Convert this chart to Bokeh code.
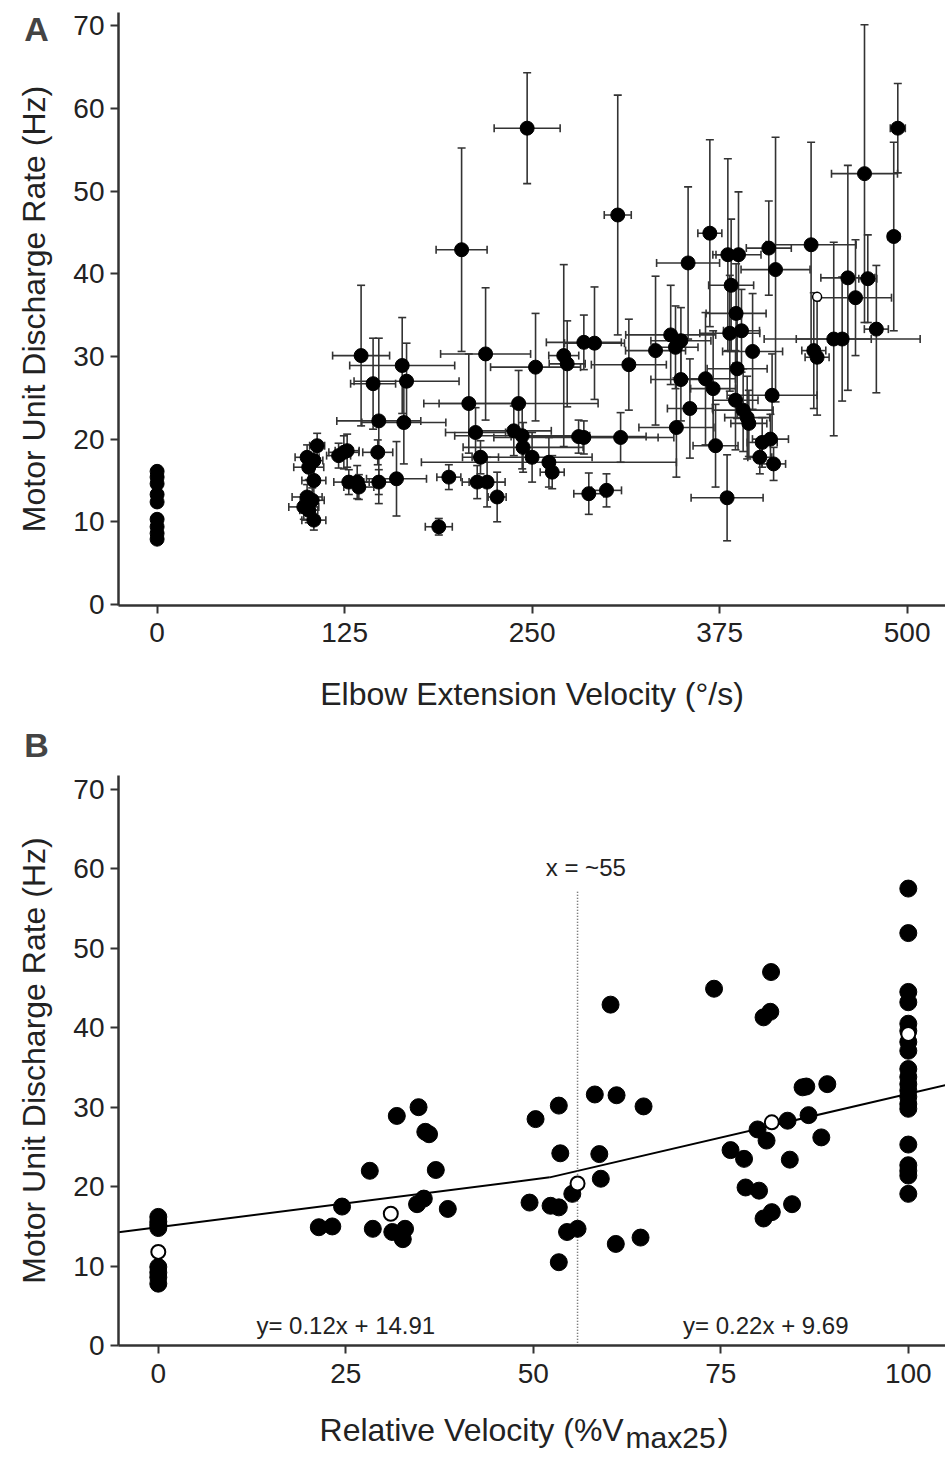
import numpy as np
from bokeh.plotting import figure
from bokeh.models import ColumnDataSource, Whisker, TeeHead, FixedTicker, Label, Range1d
from bokeh.layouts import column
from bokeh.embed import file_html
from bokeh.resources import INLINE

FONT = "Liberation Sans"

# ---------------- Panel A data ----------------
a_zero_rate = [16.1, 15.4, 14.6, 13.3, 12.4, 10.3, 9.4, 8.6, 7.9]

a_vel = [106.7, 100, 104.5, 101.1, 104.5, 100, 103.4, 97.8, 101.1, 104.5,
         121, 124.5, 126.7, 127.8, 133.4, 134.5, 147.1, 147.8, 159.6, 136,
         144, 147.8, 163.4, 166.3, 164.5, 187.8, 194.5, 203, 207.8, 212.3,
         215.6, 213.4, 220, 226.7, 219, 237.8, 241, 243.4, 244, 250,
         246.7, 252.3, 263.4, 261.2, 271.1, 273.4, 281, 284.5, 284.5, 291.6,
         287.8, 299.6, 307.1, 309, 314.5, 332.3, 342.4, 345.6, 349.2, 349.2,
         346.2, 354, 355.2, 365.6, 370.7, 368.5, 372.3, 380, 380.5, 387.6,
         382.7, 386, 389.6, 381.8, 386.7, 385.6, 390.7, 393.4, 394.5, 397,
         403.4, 408.9, 401.8, 411, 410, 407.8, 412.3, 436, 437.8, 440,
         451.1, 456.7, 460.5, 465.6, 471.6, 473.8, 479.5, 491.1, 493.8]
a_rate = [19.2, 17.8, 17.4, 16.6, 15.0, 13.0, 12.6, 11.8, 11.4, 10.2,
          18.0, 18.4, 18.6, 14.8, 14.8, 14.2, 18.4, 14.8, 15.2, 30.1,
          26.7, 22.2, 28.9, 27.0, 22.0, 9.4, 15.4, 42.9, 24.3, 20.8,
          17.8, 14.8, 14.8, 13.0, 30.3, 21.0, 24.3, 20.4, 19.0, 17.8,
          57.6, 28.7, 16.0, 17.2, 30.1, 29.1, 20.3, 20.2, 31.7, 31.6,
          13.4, 13.8, 47.1, 20.2, 29.0, 30.7, 32.6, 31.1, 31.9, 27.2,
          21.4, 41.3, 23.7, 27.3, 26.1, 44.9, 19.2, 12.9, 42.3, 42.3,
          38.6, 35.2, 33.1, 32.8, 28.5, 24.7, 23.5, 22.6, 21.9, 30.6,
          19.6, 20.0, 17.8, 17.0, 25.3, 43.1, 40.5, 43.5, 30.7, 29.9,
          32.1, 32.1, 39.5, 37.1, 52.1, 39.4, 33.3, 44.5, 57.6]
a_vel_sd = [5, 8, 6, 10, 8, 10, 8, 10, 6, 8,
            8, 10, 8, 10, 8, 10, 10, 12, 20, 19,
            15, 28, 35, 35, 28, 9, 8, 17, 30, 20,
            12, 10, 12, 6, 30, 25, 53, 45, 40, 40,
            22, 30, 8, 85, 10, 12, 45, 60, 25, 20,
            10, 10, 9, 25, 25, 20, 30, 15, 20, 20,
            25, 21, 15, 20, 15, 8, 15, 24, 10, 15,
            15, 20, 12, 20, 20, 15, 20, 15, 12, 20,
            10, 12, 8, 8, 30, 15, 23, 30, 8, 8,
            25, 52, 18, 24, 22, 6, 8, 4, 5]
a_rate_sd = [1.5, 1.5, 2, 1.5, 2, 1.5, 1.5, 1.5, 1.5, 1.2,
             1.5, 2, 2, 1.5, 2, 1.5, 1.5, 1.5, 4.5, 8.5,
             5.5, 10, 5.8, 4.6, 5, 1, 1.5, 12.3, 6, 3,
             2, 2, 3, 3, 8, 3, 4, 4, 3, 3,
             6.7, 6.5, 2, 3, 11, 5.2, 2, 2, 3.3, 6.8,
             2.5, 2, 14.5, 3, 5.5, 9, 6, 5, 4, 5,
             6, 9.2, 6, 8, 7, 11.3, 5, 5.2, 11.6, 7.6,
             8, 6, 5, 7, 6, 6, 5, 5, 4, 7,
             3, 3, 2, 2, 5, 5.7, 16, 12.4, 7, 7,
             11.7, 7.5, 13.6, 7, 18, 5.3, 7.7, 11.4, 5.4]
a_open_vel = [440]
a_open_rate = [37.2]

a_xticks = [0, 125, 250, 375, 500]
yticks = [0, 10, 20, 30, 40, 50, 60, 70]

# ---------------- Panel B data ----------------
b_rel = [0, 0, 0, 0, 0, 0, 0, 0,
         21.4, 23.2, 24.5, 28.2, 28.6, 31.8, 31.2, 32.9, 32.6, 34.7, 35.6, 36.1, 37.0, 34.5, 35.4, 38.6,
         50.3, 53.4, 53.6, 49.5, 52.3, 53.4, 55.2, 54.5, 55.9, 53.4, 58.2, 61.1, 60.3, 58.8, 59.0, 64.7, 61.0, 64.3,
         74.1, 81.7, 80.7, 81.6, 76.3, 78.1, 79.9, 81.1, 83.9, 86.7, 85.9, 86.4, 89.2, 88.4, 84.2, 78.3, 80.1, 80.7, 81.8, 84.5,
         100, 100, 100, 100, 100, 100, 100, 100, 100, 100, 100, 100, 100, 100, 100, 100, 100, 100, 100, 100]
b_rate = [16.2, 15.6, 15.2, 14.8, 9.9, 9.2, 8.6, 7.8,
          14.9, 15.0, 17.5, 22.0, 14.7, 28.9, 14.3, 14.7, 13.4, 30.0, 26.9, 26.6, 22.1, 17.8, 18.5, 17.2,
          28.5, 30.2, 24.2, 18.0, 17.6, 17.4, 19.1, 14.3, 14.7, 10.5, 31.6, 31.5, 42.9, 24.1, 21.0, 30.1, 12.8, 13.6,
          44.9, 47.0, 41.3, 42.0, 24.6, 23.5, 27.2, 25.8, 28.3, 29.0, 32.5, 32.6, 32.9, 26.2, 23.4, 19.9, 19.5, 16.0, 16.8, 17.8,
          57.5, 51.9, 44.5, 43.2, 40.5, 39.6, 38.2, 37.1, 34.8, 33.8, 32.9, 32.1, 31.3, 30.4, 29.8, 25.3, 22.7, 22.0, 21.4, 19.1]
b_mean_rel = [0, 31.0, 55.9, 81.8, 100]
b_mean_rate = [11.8, 16.6, 20.4, 28.1, 39.2]
fit_slopes = [0.12, 0.22]
fit_intercepts = [14.91, 9.69]
fit_labels = ["y= 0.12x + 14.91", "y= 0.22x + 9.69"]
break_x = 55.9
break_top = 57.2
b_xticks = [0, 25, 50, 75, 100]


def style_axes(p, xloc, yloc, xbounds, ybounds):
    for ax in (p.xaxis[0], p.yaxis[0]):
        ax.axis_line_width = 2.5
        ax.axis_line_color = "#333333"
        ax.major_tick_line_width = 2
        ax.major_tick_line_color = "#333333"
        ax.major_tick_out = 8
        ax.major_tick_in = 0
        ax.minor_tick_out = 0
        ax.minor_tick_in = 0
        ax.major_label_text_font = FONT
        ax.major_label_text_font_size = "28px"
        ax.major_label_text_color = "#222222"
        ax.axis_label_text_font = FONT
        ax.axis_label_text_font_size = "32px"
        ax.axis_label_text_font_style = "normal"
        ax.axis_label_text_color = "#222222"
    p.xaxis[0].fixed_location = xloc
    p.yaxis[0].fixed_location = yloc
    p.xaxis[0].bounds = xbounds
    p.yaxis[0].bounds = ybounds
    p.yaxis[0].ticker = FixedTicker(ticks=yticks)
    p.yaxis[0].major_label_standoff = 6
    p.xaxis[0].major_label_standoff = 10
    p.grid.visible = False
    p.outline_line_color = None
    p.background_fill_color = "white"
    p.border_fill_color = "white"


# ---------------- Panel A ----------------
A_X0, A_X1 = -104.4, 525.6
A_Y0, A_Y1 = -14.03, 73.04
p1 = figure(width=945, height=720, x_range=Range1d(A_X0, A_X1), y_range=Range1d(A_Y0, A_Y1),
            output_backend="svg", toolbar_location=None,
            min_border_left=0, min_border_right=0, min_border_top=0, min_border_bottom=0)
style_axes(p1, xloc=-0.12, yloc=-25.73, xbounds=(-25.73, A_X1), ybounds=(-0.12, 71.58))
p1.xaxis[0].ticker = FixedTicker(ticks=a_xticks)
p1.xaxis[0].axis_label = "Elbow Extension Velocity (°/s)"
p1.xaxis[0].axis_label_standoff = 30
p1.yaxis[0].axis_label = "Motor Unit Discharge Rate (Hz)"
p1.yaxis[0].axis_label_standoff = 18

av = np.array(a_vel); ar = np.array(a_rate)
avs = np.array(a_vel_sd); ars = np.array(a_rate_sd)
srcA = ColumnDataSource(dict(x=av, y=ar, xl=av - avs, xu=av + avs, yl=ar - ars, yu=ar + ars))

ecol = "#333333"
wv = Whisker(source=srcA, base="x", lower="yl", upper="yu", dimension="height",
             line_color=ecol, line_width=1.6,
             upper_head=TeeHead(size=8, line_color=ecol, line_width=1.6),
             lower_head=TeeHead(size=8, line_color=ecol, line_width=1.6))
wh = Whisker(source=srcA, base="y", lower="xl", upper="xu", dimension="width",
             line_color=ecol, line_width=1.6,
             upper_head=TeeHead(size=8, line_color=ecol, line_width=1.6),
             lower_head=TeeHead(size=8, line_color=ecol, line_width=1.6))
p1.add_layout(wv)
p1.add_layout(wh)
p1.scatter("x", "y", source=srcA, size=14, fill_color="black", line_color="black")
p1.scatter([0] * len(a_zero_rate), a_zero_rate, size=14, fill_color="black", line_color="black")
p1.scatter(a_open_vel, a_open_rate, size=9, fill_color="white", line_color="black", line_width=1.5)

p1.add_layout(Label(x=-80.4, y=69.6, text="A", text_font=FONT, text_font_size="34px",
                    text_font_style="bold", text_align="center", text_baseline="middle"))

# ---------------- Panel B ----------------
B_X0, B_X1 = -21.04, 104.96
B_Y0, B_Y1 = -14.19, 78.64
p2 = figure(width=945, height=738, x_range=Range1d(B_X0, B_X1), y_range=Range1d(B_Y0, B_Y1),
            output_backend="svg", toolbar_location=None,
            min_border_left=0, min_border_right=0, min_border_top=0, min_border_bottom=0)
style_axes(p2, xloc=0.0, yloc=-5.31, xbounds=(-5.31, B_X1), ybounds=(0.0, 71.7))
p2.xaxis[0].ticker = FixedTicker(ticks=b_xticks)
p2.yaxis[0].axis_label = "Motor Unit Discharge Rate (Hz)"
p2.yaxis[0].axis_label_standoff = 18

# fitted two-segment line
x0, x3 = -5.31, B_X1
xc = (fit_intercepts[0] - fit_intercepts[1]) / (fit_slopes[1] - fit_slopes[0])
seg1 = np.array([x0, xc]); seg2 = np.array([xc, x3])
p2.line(seg1, fit_slopes[0] * seg1 + fit_intercepts[0], line_color="black", line_width=2)
p2.line(seg2, fit_slopes[1] * seg2 + fit_intercepts[1], line_color="black", line_width=2)

p2.segment(x0=[break_x], y0=[0], x1=[break_x], y1=[break_top], line_color="#555555",
           line_width=1.5, line_dash="1 2")

p2.scatter(b_rel, b_rate, size=17, fill_color="black", line_color="black")
p2.scatter(b_mean_rel, b_mean_rate, size=14, fill_color="white", line_color="black", line_width=2)

p2.add_layout(Label(x=57.0, y=60.2, text="x = ~55", text_font=FONT, text_font_size="24px",
                    text_align="center", text_baseline="middle", text_color="#222222"))
p2.add_layout(Label(x=25.0, y=2.5, text=fit_labels[0], text_font=FONT, text_font_size="24px",
                    text_align="center", text_baseline="middle", text_color="#222222"))
p2.add_layout(Label(x=81.0, y=2.5, text=fit_labels[1], text_font=FONT, text_font_size="24px",
                    text_align="center", text_baseline="middle", text_color="#222222"))
p2.add_layout(Label(x=-16.24, y=75.5, text="B", text_font=FONT, text_font_size="34px",
                    text_font_style="bold", text_align="center", text_baseline="middle"))

# x-axis label with subscript
p2.add_layout(Label(x=21.5, y=-10.6, text="Relative Velocity (%V", text_font=FONT,
                    text_font_size="32px", text_align="left", text_baseline="alphabetic",
                    text_color="#222222"))
p2.add_layout(Label(x=62.3, y=-11.6, text="max25", text_font=FONT,
                    text_font_size="30px", text_align="left", text_baseline="alphabetic",
                    text_color="#222222"))
p2.add_layout(Label(x=74.6, y=-10.6, text=")", text_font=FONT,
                    text_font_size="32px", text_align="left", text_baseline="alphabetic",
                    text_color="#222222"))

layout = column(p1, p2, spacing=0)
open("out.html", "w").write(file_html(layout, INLINE))
